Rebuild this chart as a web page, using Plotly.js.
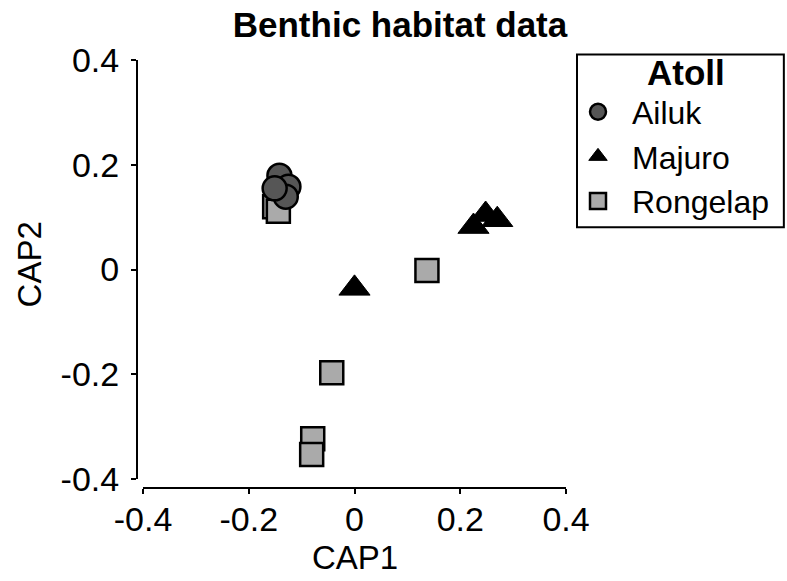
<!DOCTYPE html>
<html>
<head>
<meta charset="utf-8">
<script src="https://cdn.plot.ly/plotly-3.0.1.min.js"></script>
<style>html,body{margin:0;padding:0;background:#fff;}#chart{width:787px;height:581px;}</style>
</head>
<body>
<div id="chart"></div>
<script>
// Data
const ailukX = [-0.142, -0.125, -0.130, -0.151];
const ailukY = [0.179, 0.158, 0.139, 0.155];
const majuroX = [0.000, 0.225, 0.248, 0.270];
const majuroY = [-0.036, 0.082, 0.105, 0.095];
const rongelapX = [-0.151, -0.144, 0.137, -0.043, -0.079, -0.081];
const rongelapY = [0.120, 0.111, -0.002, -0.197, -0.323, -0.353];
const tickVals = [-0.4, -0.2, 0, 0.2, 0.4];
const tickText = ['-0.4', '-0.2', '0', '0.2', '0.4'];

const FONT = 'Liberation Sans, Arial, sans-serif';
const XR = [-0.41135, 0.41135];
const YR = [-0.41716, 0.41716];

const traces = [
  {x: ailukX, y: ailukY, name: 'Ailuk', type: 'scatter', mode: 'markers', legendrank: 1,
   marker: {symbol: 'circle', size: 24, color: '#565656', line: {color: '#000', width: 2.5}}},
  {x: majuroX, y: majuroY, name: 'Majuro', type: 'scatter', mode: 'markers', legendrank: 2,
   marker: {symbol: 'triangle-up', size: 27, color: '#000', line: {color: '#000', width: 1}}},
  {x: rongelapX, y: rongelapY, name: 'Rongelap', type: 'scatter', mode: 'markers', legendrank: 3,
   marker: {symbol: 'square', size: 23, color: '#aaaaaa', line: {color: '#000', width: 2.5}}}
];
// Draw Rongelap first so circles sit on top, as in the reference
const ordered = [traces[2], traces[1], traces[0]];

const axBase = {tickvals: tickVals, ticktext: tickText, showgrid: false, zeroline: false,
  showline: false, ticks: 'outside', ticklen: 5, tickwidth: 2, tickcolor: '#000',
  tickfont: {family: FONT, size: 34, color: '#000'}, fixedrange: true, automargin: false};

const layout = {
  width: 787, height: 581,
  margin: {l: 137, r: 215, t: 50.5, b: 93, pad: 0, autoexpand: false},
  paper_bgcolor: '#fff', plot_bgcolor: '#fff',
  font: {family: FONT, color: '#000'},
  title: {text: '<b>Benthic habitat data</b>', font: {family: FONT, size: 35, color: '#000'},
          xref: 'paper', x: 0.6046, xanchor: 'center', yref: 'container', y: 0.958, yanchor: 'middle'},
  xaxis: Object.assign({}, axBase, {range: XR, ticklabelstandoff: -4}),
  yaxis: Object.assign({}, axBase, {range: YR, ticklabelstandoff: 5}),
  xaxis2: {range: XR, overlaying: 'x', anchor: 'y', side: 'bottom', tickvals: tickVals, showticklabels: false,
           ticks: 'inside', ticklen: 5, tickwidth: 2, tickcolor: '#000', showgrid: false, zeroline: false, showline: false},
  yaxis2: {range: YR, overlaying: 'y', anchor: 'x', side: 'left', tickvals: tickVals, showticklabels: false,
           ticks: 'inside', ticklen: 5, tickwidth: 2, tickcolor: '#000', showgrid: false, zeroline: false, showline: false},
  shapes: [
    {type: 'line', xref: 'x', yref: 'paper', x0: tickVals[0], x1: tickVals[tickVals.length - 1], y0: 0, y1: 0,
     line: {color: '#000', width: 2}},
    {type: 'line', xref: 'paper', yref: 'y', x0: 0, x1: 0, y0: tickVals[0], y1: tickVals[tickVals.length - 1],
     line: {color: '#000', width: 2}},
    // legend frame
    {type: 'rect', xref: 'paper', yref: 'paper', x0: 1.0115, x1: 1.487, y0: 0.5966, y1: 0.992,
     line: {color: '#000', width: 2}, fillcolor: 'rgba(0,0,0,0)', layer: 'above'}
  ],
  annotations: [
    {text: 'CAP1', xref: 'x', x: 0, yref: 'paper', y: -0.16, showarrow: false, xanchor: 'center', yanchor: 'middle',
     font: {family: FONT, size: 33, color: '#000'}},
    {text: 'CAP2', xref: 'paper', x: -0.248, yref: 'paper', y: 0.512, showarrow: false, textangle: -90,
     xanchor: 'center', yanchor: 'middle', font: {family: FONT, size: 33, color: '#000'}},
    {text: '<b>Atoll</b>', xref: 'paper', x: (686 - 137) / 435, yref: 'paper', y: (488 - 72) / 437.5,
     showarrow: false, xanchor: 'center', yanchor: 'middle', font: {family: FONT, size: 35, color: '#000'}}
  ],
  showlegend: true,
  legend: {x: (564 - 137) / 435, xanchor: 'left', y: (488 - 84) / 437.5, yanchor: 'top',
    bgcolor: 'rgba(0,0,0,0)', borderwidth: 0,
    font: {family: FONT, size: 32, color: '#000'}, itemwidth: 58, traceorder: 'normal'}
};

Plotly.newPlot('chart', ordered, layout, {staticPlot: true, displayModeBar: false});
</script>
</body>
</html>
